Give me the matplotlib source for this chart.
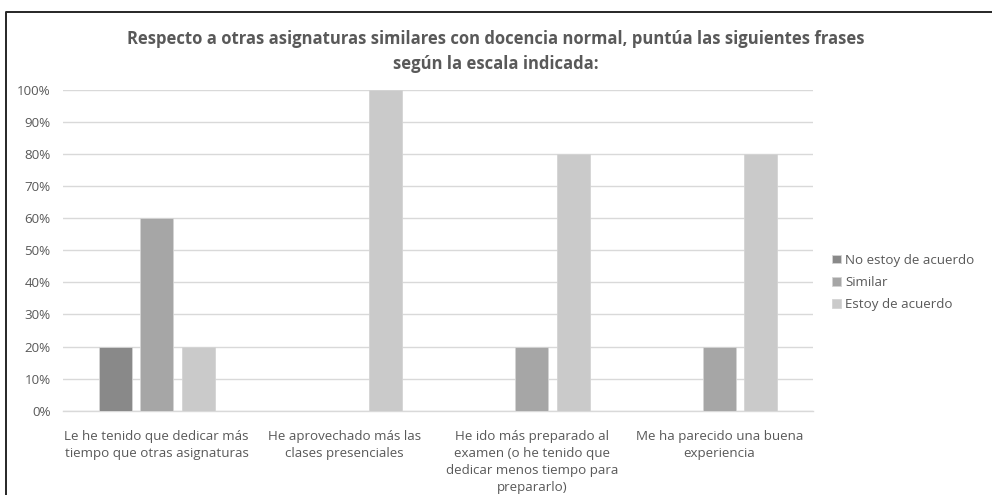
import matplotlib.pyplot as plt
import numpy as np
from matplotlib.lines import Line2D
from matplotlib.ticker import PercentFormatter

categorias = [
    "Le he tenido que dedicar más\ntiempo que otras asignaturas",
    "He aprovechado más las\nclases presenciales",
    "He ido más preparado al\nexamen (o he tenido que\ndedicar menos tiempo para\nprepararlo)",
    "Me ha parecido una buena\nexperiencia",
]
series = ["No estoy de acuerdo", "Similar", "Estoy de acuerdo"]
no_acuerdo = [0.20, 0.0, 0.0, 0.0]
similar = [0.60, 0.0, 0.20, 0.20]
de_acuerdo = [0.20, 1.00, 0.80, 0.80]
valores = [no_acuerdo, similar, de_acuerdo]
colores = ["#898989", "#a6a6a6", "#cacaca"]

texto = "#595959"
plt.rcParams["font.family"] = ["Open Sans", "DejaVu Sans"]

fig = plt.figure(figsize=(9.92, 4.95), dpi=100)
ax = fig.add_axes([0.0635, 0.1703, 0.756, 0.6485])

x = np.arange(len(categorias))
ancho = 0.175
paso = 0.222
for i, (nombre, vals, c) in enumerate(zip(series, valores, colores)):
    ax.bar(x + (i - 1) * paso, vals, ancho, color=c, label=nombre,
           edgecolor="#d4d4d4", linewidth=0.6, zorder=3)

ax.set_xlim(-0.5, len(categorias) - 0.5)
ax.set_ylim(0, 1.0)
ax.set_yticks(np.arange(0, 1.01, 0.1))
ax.yaxis.set_major_formatter(PercentFormatter(1.0, decimals=0))
ax.grid(axis="y", color="#d9d9d9", linewidth=1, zorder=0)
for s in ["top", "right", "left"]:
    ax.spines[s].set_visible(False)
ax.spines["bottom"].set_color("#d9d9d9")
ax.spines["bottom"].set_linewidth(1)
ax.tick_params(axis="both", length=0, colors=texto, labelsize=9.6)
ax.tick_params(axis="y", pad=9)
ax.tick_params(axis="x", pad=14)
ax.set_xticks(x)
ax.set_xticklabels(categorias, linespacing=1.4)

fig.text(0.5, 0.895,
         "Respecto a otras asignaturas similares con docencia normal, puntúa las siguientes frases\nsegún la escala indicada:",
         ha="center", va="center", fontsize=12, fontweight="bold",
         color=texto, linespacing=1.5)

ax.legend(loc="center left", bbox_to_anchor=(1.01, 0.40), frameon=False,
          fontsize=9.6, labelcolor=texto, handlelength=0.65, handleheight=0.65,
          handletextpad=0.3, labelspacing=0.68)

# marco izquierdo y superior
x0 = 6 / 992
y0 = 1 - 11.5 / 495
fig.add_artist(Line2D([x0, x0, 1.0], [0.0, y0, y0], transform=fig.transFigure,
                      color="#262626", linewidth=1.4))

fig.savefig("out.png", dpi=100, facecolor="white")
